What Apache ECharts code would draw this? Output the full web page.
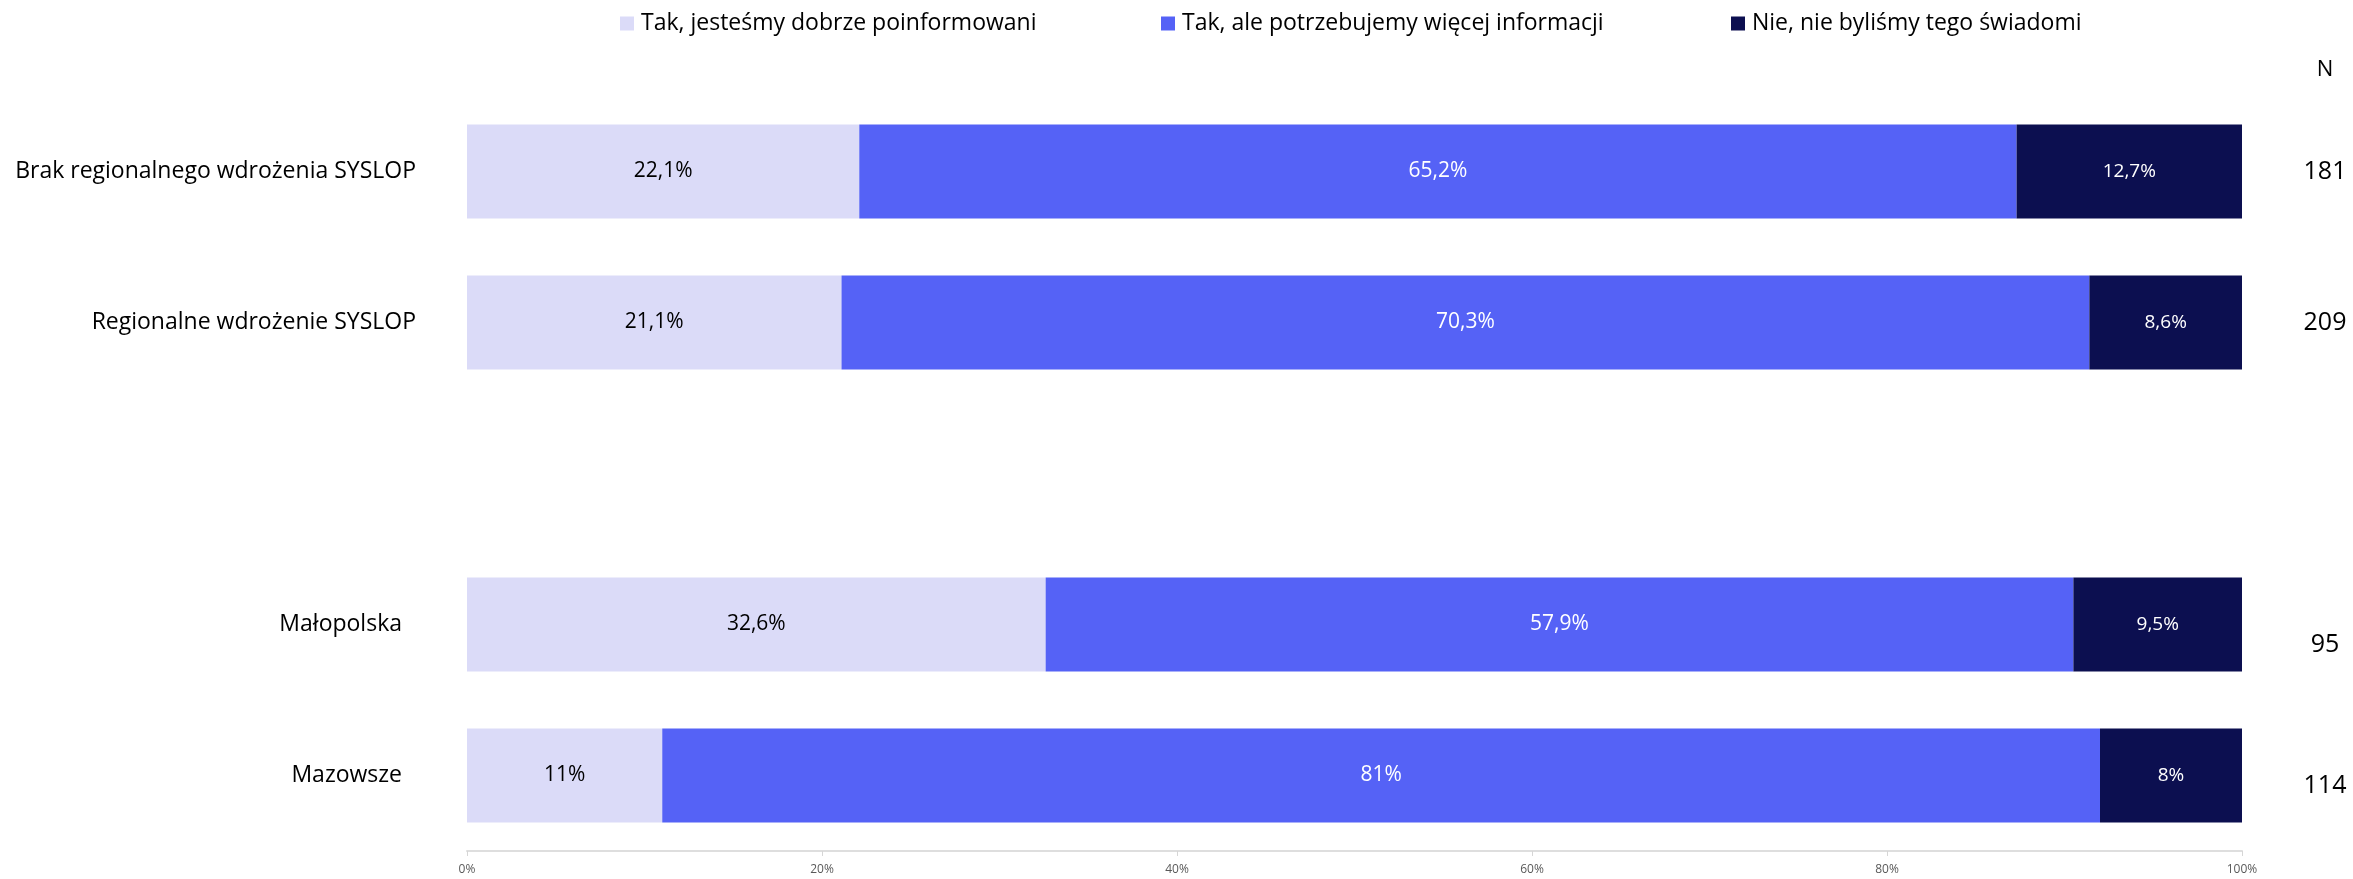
<!DOCTYPE html>
<html>
<head>
<meta charset="utf-8">
<script src="https://cdn.jsdelivr.net/npm/echarts@6/dist/echarts.min.js"></script>
<style>
  html, body { margin: 0; padding: 0; background: #ffffff; }
  #chart { width: 2353px; height: 879px; }
</style>
</head>
<body>
<div id="chart"></div>
<script>
// Categories (empty slot separates the two groups)
const categories = [
  'Brak regionalnego wdrożenia SYSLOP',
  'Regionalne wdrożenie SYSLOP',
  '',
  'Małopolska',
  'Mazowsze'
];
// Sample sizes shown on the right
const nLabels = ['181', '209', '', '95', '114'];

const seriesNames = [
  'Tak, jesteśmy dobrze poinformowani',
  'Tak, ale potrzebujemy więcej informacji',
  'Nie, nie byliśmy tego świadomi'
];
const wellInformed = [22.1, 21.1, null, 32.6, 11];
const needMoreInfo = [65.2, 70.3, null, 57.9, 81];
const notAware = [12.7, 8.6, null, 9.5, 8];

const xTicks = [0, 20, 40, 60, 80, 100];

const colors = ['#DBDBF8', '#5562F6', '#0C0F50'];
const FONT = '"Open Sans"';

const fmtPct = v => String(v).replace('.', ',') + '%';

function barSeries(name, data, color, labelColor, labelSize) {
  return {
    name: name,
    type: 'bar',
    stack: 'total',
    barWidth: 94,
    data: data,
    itemStyle: { color: color },
    label: {
      show: true,
      position: 'inside',
      color: labelColor,
      fontFamily: FONT,
      fontSize: labelSize,
      formatter: p => (p.value == null ? '' : fmtPct(p.value))
    },
    emphasis: { disabled: true }
  };
}

function legendAt(name, left) {
  return {
    data: [name],
    left: left,
    top: 12,
    icon: 'rect',
    itemWidth: 14,
    itemHeight: 14,
    padding: 0,
    selectedMode: false,
    textStyle: { fontFamily: FONT, fontSize: 23, color: '#000', padding: [0, 0, 0, 2] }
  };
}

const chart = echarts.init(document.getElementById('chart'), null, { renderer: 'canvas' });

chart.setOption({
  animation: false,
  backgroundColor: '#ffffff',
  color: colors,
  legend: [
    legendAt(seriesNames[0], 620),
    legendAt(seriesNames[1], 1161),
    legendAt(seriesNames[2], 1731)
  ],
  grid: { left: 467, right: 111, top: 96, bottom: 28, containLabel: false, outerBoundsMode: 'none' },
  xAxis: {
    type: 'value',
    min: 0,
    max: 100,
    interval: 20,
    axisLine: { show: true, lineStyle: { color: '#dedede', width: 2 } },
    axisTick: { show: true, length: 5, lineStyle: { color: '#d6d6d6' } },
    splitLine: { show: false },
    axisLabel: {
      margin: 13,
      color: '#595959',
      fontFamily: FONT,
      fontSize: 12,
      formatter: v => (xTicks.includes(v) ? v + '%' : '')
    }
  },
  yAxis: [
    {
      type: 'category',
      inverse: true,
      data: categories,
      axisLine: { show: false },
      axisTick: { show: false },
      splitLine: { show: false },
      axisLabel: {
        margin: 51,
        color: '#000',
        fontFamily: FONT,
        fontSize: 23,
        // regional rows sit slightly further from the bars
        formatter: (v, i) => (i >= 3 ? '{far|' + v + '}' : v),
        rich: { far: { fontFamily: FONT, fontSize: 23, color: '#000', padding: [0, 14, 0, 0] } }
      }
    },
    {
      type: 'category',
      inverse: true,
      position: 'right',
      data: nLabels,
      axisLine: { show: false },
      axisTick: { show: false },
      splitLine: { show: false },
      axisLabel: {
        margin: 83,
        align: 'center',
        color: '#000',
        fontFamily: FONT,
        fontSize: 25,
        formatter: (v, i) => (i === 3 ? '{low2|' + v + '}' : i === 4 ? '{low1|' + v + '}' : v),
        rich: {
          low2: { fontFamily: FONT, fontSize: 25, color: '#000', padding: [40, 0, 0, 0] },
          low1: { fontFamily: FONT, fontSize: 25, color: '#000', padding: [20, 0, 0, 0] }
        }
      }
    }
  ],
  graphic: [
    {
      type: 'text',
      x: 2325,
      y: 70,
      style: {
        text: 'N',
        fill: '#000',
        font: '22px ' + FONT,
        textAlign: 'center',
        textVerticalAlign: 'middle'
      }
    }
  ],
  series: [
    barSeries(seriesNames[0], wellInformed, colors[0], '#000000', 21),
    barSeries(seriesNames[1], needMoreInfo, colors[1], '#ffffff', 21),
    barSeries(seriesNames[2], notAware, colors[2], '#ffffff', 19)
  ]
});
</script>
</body>
</html>
